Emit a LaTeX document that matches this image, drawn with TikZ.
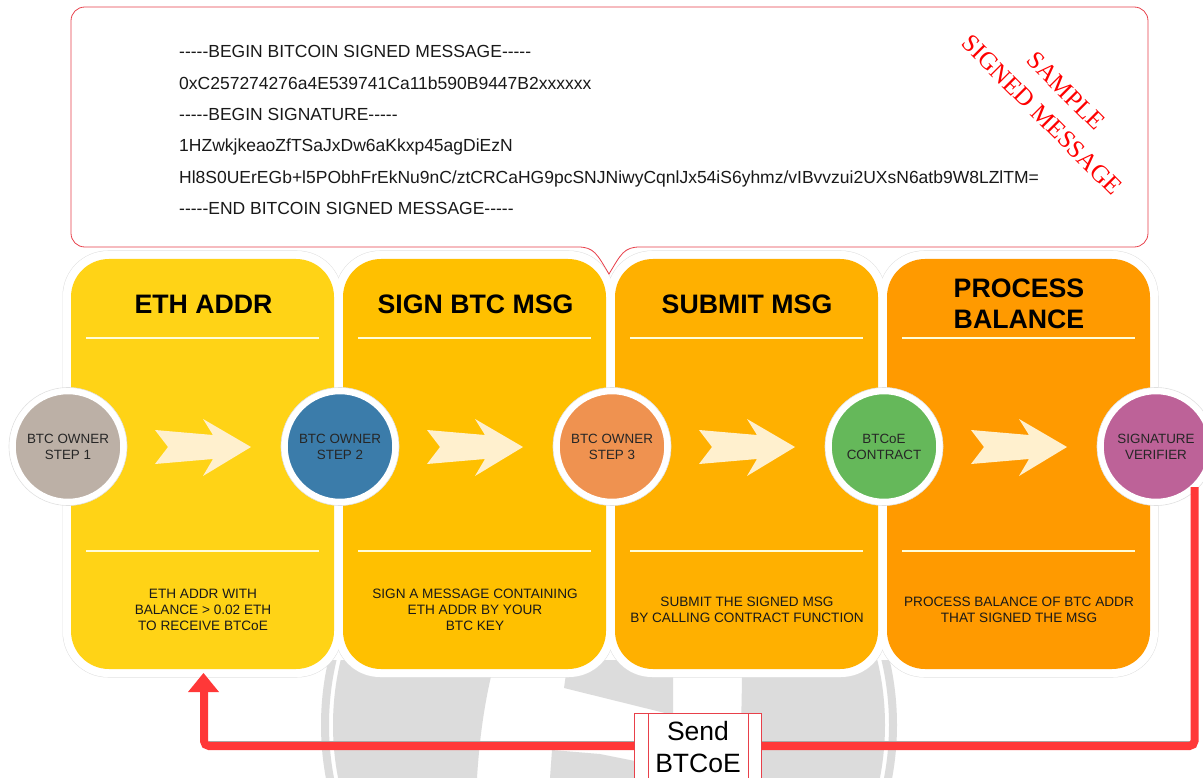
\documentclass[tikz,border=0pt]{standalone}
\usepackage{fontspec}
\setmainfont{Liberation Sans}
\newfontfamily\serifsign{Liberation Serif}
\definecolor{cardA}{HTML}{FFD316}
\definecolor{cardB}{HTML}{FFC000}
\definecolor{cardC}{HTML}{FFB000}
\definecolor{cardD}{HTML}{FF9A00}
\definecolor{arrowfill}{HTML}{FFF0CE}
\definecolor{redline}{HTML}{FF3838}
\definecolor{logogray}{HTML}{DCDCDC}
\definecolor{halo}{HTML}{E0E0E0}
\definecolor{boxred}{HTML}{E8404A}
\tikzset{
  x=1pt,y=-1pt,
  card/.style={draw=none,rounded corners=38pt},
  title/.style={font=\bfseries\fontsize{26.7}{31.5}\selectfont,align=center,text=black},
  sep/.style={draw=white!85!yellow,line width=1.2pt},
  desc/.style={font=\fontsize{13.6}{16.3}\selectfont,align=center,text=black!90},
  badge/.style={circle,minimum size=110.5pt,inner sep=0pt,draw=white,line width=6pt,font=\fontsize{13.4}{16}\selectfont,align=center,text=black!85},
  msg/.style={anchor=west,font=\fontsize{17.5}{20}\selectfont,text=black!90,inner sep=0pt,text height=13pt,text depth=4pt},
  flow/.style={draw=redline,line width=8pt,rounded corners=5pt},
}
\newcommand{\dashrun}{-\kern0pt-\kern0pt-\kern0pt-\kern0pt-}
\newcommand{\bigarrow}[1]{%
  \fill[arrowfill] (#1-48,430) -- (#1+10,435) -- (#1,419) -- (#1+48,447) -- (#1,476) -- (#1+10,459) -- (#1-48,464) -- (#1-35,447) -- cycle;}
\begin{document}
\begin{tikzpicture}
\useasboundingbox (0,0) rectangle (1203,778);
\fill[white] (0,0) rectangle (1203,778);
% background logo
\begin{scope}
\clip (0,660) rectangle (1203,778);
\draw[logogray,line width=8pt] (609,725) circle (284pt);
\begin{scope}
\clip (609,725) circle (276pt);
\fill[logogray] (300,660) -- (495,660) .. controls (486,695) and (480,730) .. (477,778) -- (300,778) -- cycle;
\fill[logogray] (742,660) .. controls (742,700) and (741,740) .. (738,778) -- (950,778) -- (950,660) -- cycle;
\end{scope}
\fill[logogray] (568,660) -- (564,688) -- (673,715) -- (673,660) -- cycle;
\fill[logogray] (550,778) -- (552,750) -- (600,754) -- (640,762) -- (640,778) -- cycle;
\end{scope}
% card halos
\foreach \x in {63,335,607,879}
  \draw[halo,line width=1pt,rounded corners=45pt] (\x,251) rectangle (\x+279,677);
\foreach \x in {63,335,607,879}
  \fill[white,rounded corners=45pt] (\x,251) rectangle (\x+279,677);
% callout
\draw[boxred,line width=.8pt,fill=white] (85,7) -- (1134,7)
  .. controls (1142,7) and (1148,13) .. (1148,21) -- (1148,233)
  .. controls (1148,241) and (1142,247) .. (1134,247) -- (640,247)
  .. controls (624,247) and (621,254) .. (609,274)
  .. controls (597,254) and (594,247) .. (578,247) -- (85,247)
  .. controls (77,247) and (71,241) .. (71,233) -- (71,21)
  .. controls (71,13) and (77,7) .. (85,7) -- cycle;
\node[msg] (m1) at (179,53) {\dashrun BEGIN BITCOIN SIGNED MESSAGE\dashrun};
\node[msg] (m2) at (179,85) {0xC257274276a4E539741Ca11b590B9447B2xxxxxx};
\node[msg] (m3) at (179,116) {\dashrun BEGIN SIGNATURE\dashrun};
\node[msg] (m4) at (179,147) {1HZwkjkeaoZfTSaJxDw6aKkxp45agDiEzN};
\node[msg] (m5) at (179,179) {Hl8S0UErEGb+l5PObhFrEkNu9nC/ztCRCaHG9pcSNJNiwyCqnlJx54iS6yhmz/vIBvvzui2UXsN6atb9W8LZlTM=};
\node[msg] (m6) at (179,210) {\dashrun END BITCOIN SIGNED MESSAGE\dashrun};
\node[rotate=-45,text=red,align=center,font=\serifsign\fontsize{25}{34}\selectfont] (stamp) at (1054,103) {SAMPLE\\SIGNED MESSAGE};
% cards
\fill[card,cardA] (71,259) rectangle (334,669);
\fill[card,cardB] (343,259) rectangle (606,669);
\fill[card,cardC] (615,259) rectangle (878,669);
\fill[card,cardD] (887,259) rectangle (1150,669);
\foreach \x in {86,358,630,902}{
  \draw[sep] (\x,338) -- (\x+233,338);
  \draw[sep] (\x,551) -- (\x+233,551);
}
\node[title] (t1) at (203.5,304) {ETH ADDR};
\node[title] (t2) at (475.5,304) {SIGN BTC MSG};
\node[title] (t3) at (747,304) {SUBMIT MSG};
\node[title] (t4) at (1019,304) {PROCESS\\BALANCE};
\bigarrow{203}
\bigarrow{475}
\bigarrow{747}
\bigarrow{1019}
\node[desc] (d1) at (203,610) {ETH ADDR WITH\\BALANCE > 0.02 ETH\\TO RECEIVE BTCoE};
\node[desc] (d2) at (475,610) {SIGN A MESSAGE CONTAINING\\ETH ADDR BY YOUR\\BTC KEY};
\node[desc] (d3) at (747,610) {SUBMIT THE SIGNED MSG\\BY CALLING CONTRACT FUNCTION};
\node[desc] (d4) at (1019,610) {PROCESS BALANCE OF BTC ADDR\\THAT SIGNED THE MSG};
% badges
\foreach \x in {68,340,612,884,1156}
  \draw[halo,fill=white,line width=.6pt] (\x,446.5) circle (59pt);
\node[badge,fill={rgb,255:red,188;green,176;blue,166}] (b1) at (68,446.5) {BTC OWNER\\STEP 1};
\node[badge,fill={rgb,255:red,59;green,124;blue,170}] (b2) at (340,446.5) {BTC OWNER\\STEP 2};
\node[badge,fill={rgb,255:red,239;green,146;blue,80}] (b3) at (612,446.5) {BTC OWNER\\STEP 3};
\node[badge,fill={rgb,255:red,101;green,184;blue,90}] (b4) at (884,446.5) {BTCoE\\CONTRACT};
\node[badge,fill={rgb,255:red,189;green,98;blue,152}] (b5) at (1156,446.5) {SIGNATURE\\VERIFIER};
% return flow
\coordinate (start) at (1194.5,487);
\coordinate (corner1) at (1194.5,746);
\coordinate (corner2) at (204,746);
\coordinate (tip) at (204,690);
\coordinate (shadeA) at (209,741.5);
\coordinate (shadeB) at (1190,741.5);
\draw[black!35,line width=.7pt] (shadeA) -- (shadeB);
\coordinate (apex) at (203.5,673);
\coordinate (baseR) at (219,692);
\coordinate (baseL) at (188,692);
\fill[redline] (apex) -- (baseR) -- (baseL) -- cycle;
\draw[flow] (start) -- (corner1) -- (corner2) -- (tip);
\node[draw=boxred,line width=.8pt,fill=white,minimum width=127pt,minimum height=70pt,anchor=north,inner sep=0pt] (send) at (698,713) {};
\draw[boxred,line width=.7pt] (648,713) -- (648,778) (748,713) -- (748,778);
\node[align=center,font=\fontsize{26.5}{32}\selectfont,text=black] (sendt) at (698,747) {Send\\BTCoE};
\end{tikzpicture}
\end{document}
